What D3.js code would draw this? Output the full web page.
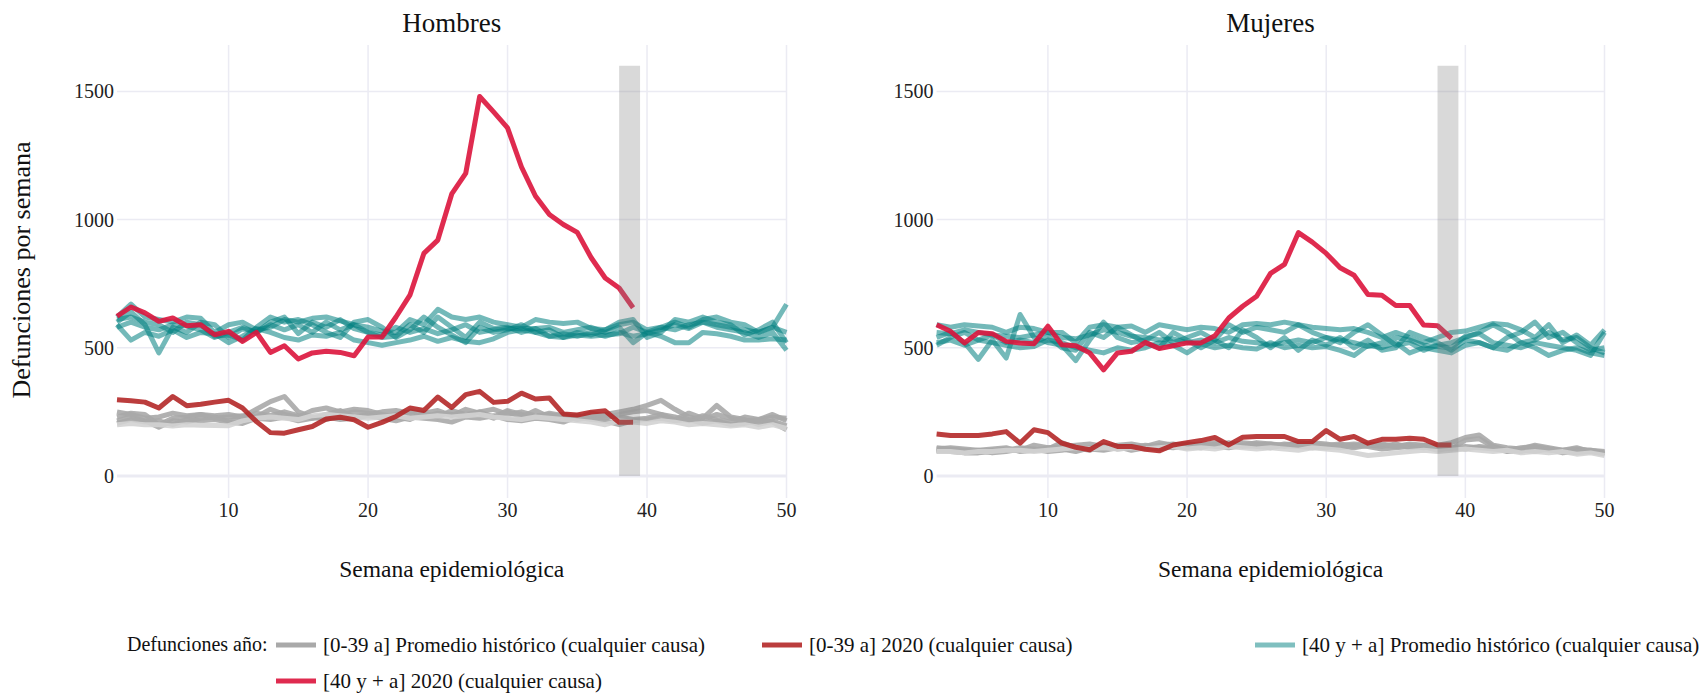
<!DOCTYPE html>
<html>
<head>
<meta charset="utf-8">
<script src="https://cdn.jsdelivr.net/npm/d3@7"></script>
<style>
  body { margin: 0; background: #fff; }
  svg { font-family: "Liberation Serif", "Times New Roman", serif; }
</style>
</head>
<body>
<svg id="chart" width="1708" height="694"></svg>
<script>
// weeks 2..50
const weeks = d3.range(2, 51)
const weeks2020 = d3.range(2, 40)

// Hombres, [0-39 a] historical years
const hombresHist039 = [
  [230,245,240,200,225,230,240,235,240,230,260,290,310,250,230,220,240,250,245,230,240,250,245,230,255,240,250,260,240,250,235,240,230,235,225,240,250,260,275,295,260,230,220,240,225,215,220,230,225],
  [215,230,215,190,215,210,225,230,215,220,245,235,250,235,225,240,255,230,240,250,255,245,230,245,240,235,250,230,255,240,230,245,235,220,230,225,240,250,255,240,220,245,225,275,230,220,200,215,195],
  [250,240,225,230,245,235,240,225,230,235,230,260,240,230,255,265,250,260,255,240,230,220,245,255,235,260,245,225,250,230,255,230,240,225,245,235,230,220,225,240,230,215,235,220,210,230,220,240,215],
  [205,220,210,215,200,220,215,220,210,205,225,220,230,215,225,230,220,225,235,225,215,230,225,220,210,230,225,235,220,215,225,220,210,230,220,215,200,215,220,225,215,220,205,215,200,205,215,210,180],
  [200,205,200,200,195,200,198,197,196,215,225,230,225,220,235,240,235,230,225,230,235,225,230,235,230,235,240,230,225,220,230,225,220,215,210,200,215,210,205,215,210,200,205,200,195,200,190,200,185]
]
// Hombres, [40 y + a] historical years
const hombresHist40 = [
  [600,640,590,480,580,560,600,590,540,575,560,600,620,555,600,580,610,575,560,540,545,590,560,620,580,540,600,575,580,560,575,580,560,570,580,560,580,520,560,580,570,590,600,580,570,560,540,560,490],
  [620,670,620,610,600,620,615,560,590,600,570,580,610,600,615,620,605,590,580,565,560,610,590,650,620,610,620,600,590,580,610,600,595,600,575,570,590,600,570,580,600,580,610,620,600,590,560,580,670],
  [590,530,560,545,570,540,560,555,520,545,575,560,540,530,550,545,560,530,520,510,520,530,545,525,540,525,520,535,560,570,560,545,540,550,545,550,555,580,560,545,520,520,560,555,545,530,530,535,530],
  [580,600,580,570,590,585,570,540,560,580,560,590,570,590,560,600,570,590,560,550,580,560,575,555,570,590,560,570,575,575,575,545,555,545,560,545,560,545,555,570,590,575,600,590,580,570,560,580,560],
  [610,620,600,590,560,600,590,545,550,530,580,620,600,610,590,560,540,600,610,580,540,570,620,580,550,520,580,560,570,590,560,570,540,560,550,570,600,610,540,560,610,600,620,600,590,550,570,600,520]
]
// Hombres 2020
const hombres2020_039 = [297,293,288,265,310,274,280,288,295,265,212,169,167,180,193,222,229,219,190,209,232,265,255,308,267,317,330,287,291,323,300,304,242,238,249,254,209,209]
const hombres2020_40 = [623,659,636,603,616,586,590,551,564,525,560,482,508,456,480,486,482,469,542,542,620,705,868,920,1100,1180,1480,1420,1358,1205,1092,1020,981,950,851,772,733,656]

// Mujeres, [0-39 a] historical years
const mujeresHist039 = [
  [110,105,100,95,100,105,100,120,110,115,120,125,115,120,125,115,130,120,125,120,130,125,120,130,125,120,130,125,120,125,115,125,120,115,120,110,120,130,150,160,120,110,105,120,110,100,105,100,95],
  [100,95,90,90,95,100,110,105,95,100,110,105,100,110,115,110,105,115,110,120,115,110,120,115,110,120,115,110,115,110,120,115,105,110,115,120,110,105,140,145,115,100,95,110,100,95,90,95,85],
  [95,100,95,100,90,95,105,100,105,130,110,100,120,105,110,120,115,110,120,125,120,130,115,120,125,115,120,115,110,120,125,120,115,125,110,115,100,110,115,110,105,100,110,115,105,100,110,95,90],
  [105,110,105,100,105,110,95,100,110,105,95,110,105,115,100,110,120,125,115,110,125,120,130,125,115,125,120,130,125,115,110,120,125,115,125,120,115,110,105,115,110,95,100,95,105,90,95,100,90],
  [95,95,90,95,95,100,100,95,100,105,110,105,110,105,110,105,110,115,105,110,105,115,110,105,110,105,100,110,105,100,90,80,85,90,95,100,95,100,105,100,95,100,90,95,90,95,85,90,80]
]
// Mujeres, [40 y + a] historical years
const mujeresHist40 = [
  [540,560,520,455,530,460,630,540,520,510,450,530,600,540,520,530,560,520,540,560,530,590,560,580,570,560,590,560,540,520,560,590,550,510,520,490,510,520,540,560,590,560,520,530,560,530,540,500,480],
  [590,580,590,585,580,560,580,575,560,560,520,580,590,580,585,560,590,580,570,580,575,560,590,595,590,600,590,580,575,570,575,560,540,560,540,520,540,560,565,580,595,590,570,540,590,520,550,510,570],
  [560,555,570,560,550,545,540,550,560,540,535,550,570,560,545,540,530,535,520,530,520,540,525,520,510,520,530,520,540,530,520,505,520,540,530,510,505,500,545,555,520,510,500,520,510,500,490,470,560],
  [520,530,510,530,520,510,500,505,530,520,500,490,480,500,490,500,520,510,480,515,500,510,500,495,520,500,510,500,505,490,470,510,500,520,480,500,490,480,510,520,500,490,520,500,470,490,500,480,470],
  [510,540,560,530,550,520,530,520,545,500,490,560,540,580,550,520,500,560,530,500,530,500,570,540,500,540,490,530,510,540,500,530,490,500,560,540,520,490,530,520,500,540,560,600,540,560,520,490,500]
]
// Mujeres 2020
const mujeres2020_039 = [164,158,158,158,164,173,128,180,169,128,112,102,134,115,115,104,98,121,130,138,150,121,151,154,154,154,134,134,177,143,154,128,143,143,147,143,121,121]
const mujeres2020_40 = [590,564,519,560,555,525,519,516,584,512,508,480,414,480,486,521,497,508,519,519,547,616,662,701,790,825,949,912,868,812,783,708,705,665,665,589,586,537]

const panelTitles = ["Hombres", "Mujeres"]
const xTicks = [10, 20, 30, 40, 50]
const yTicks = [0, 500, 1000, 1500]
const band = [38, 39.5]
const bandTop = 1600

const legendTitle = "Defunciones año:"
const legendLabels = [
  "[0-39 a] Promedio histórico (cualquier causa)",
  "[0-39 a] 2020 (cualquier causa)",
  "[40 y + a] Promedio histórico (cualquier causa)",
  "[40 y + a] 2020 (cualquier causa)"
]

const colHist039 = ["#a9a9a9", "#a9a9a9", "#a9a9a9", "#a9a9a9", "#d3d3d3"]
const colTeal = "#008080"
const colBrown = "#b22222"
const colRed = "#dc143c"

const svg = d3.select("#chart")

const panels = [
  {title: panelTitles[0], x0: 117, x1: 786.5, hist039: hombresHist039, hist40: hombresHist40, y039: hombres2020_039, y40: hombres2020_40},
  {title: panelTitles[1], x0: 936.6, x1: 1604.5, hist039: mujeresHist039, hist40: mujeresHist40, y039: mujeres2020_039, y40: mujeres2020_40}
]

const y = d3.scaleLinear().domain([-86, 1681]).range([498, 45])
const lw = 5

panels.forEach((p, pi) => {
  const x = d3.scaleLinear().domain([2, 50]).range([p.x0, p.x1])
  const g = svg.append("g")

  // grid
  g.append("g").selectAll("line").data(xTicks).join("line")
    .attr("x1", d => x(d)).attr("x2", d => x(d))
    .attr("y1", y.range()[1]).attr("y2", y.range()[0])
    .attr("stroke", "#ebebf3").attr("stroke-width", 1.5)
  g.append("g").selectAll("line").data(yTicks).join("line")
    .attr("x1", p.x0).attr("x2", p.x1)
    .attr("y1", d => y(d)).attr("y2", d => y(d))
    .attr("stroke", "#ebebf3").attr("stroke-width", d => d === 0 ? 3 : 1.5)

  // tick labels
  g.append("g").selectAll("text").data(yTicks).join("text")
    .attr("x", p.x0 - 3).attr("y", d => y(d) + 7)
    .attr("text-anchor", "end").attr("font-size", 20).attr("fill", "#222")
    .text(d => d)
  g.append("g").selectAll("text").data(xTicks).join("text")
    .attr("x", d => x(d)).attr("y", 517)
    .attr("text-anchor", "middle").attr("font-size", 20).attr("fill", "#222")
    .text(d => d)

  const line = d3.line().x((d, i) => x(weeks[i])).y(d => y(d))
  const line20 = d3.line().x((d, i) => x(weeks2020[i])).y(d => y(d))

  // historical 0-39
  g.append("g").selectAll("path").data(p.hist039).join("path")
    .attr("d", line).attr("fill", "none")
    .attr("stroke", (d, i) => colHist039[i]).attr("stroke-opacity", 0.9)
    .attr("stroke-width", lw).attr("stroke-linejoin", "round")
  // 2020 0-39
  g.append("path").attr("d", line20(p.y039)).attr("fill", "none")
    .attr("stroke", colBrown).attr("stroke-opacity", 0.88)
    .attr("stroke-width", lw).attr("stroke-linejoin", "round")
  // historical 40+
  g.append("g").selectAll("path").data(p.hist40).join("path")
    .attr("d", line).attr("fill", "none")
    .attr("stroke", colTeal).attr("stroke-opacity", 0.55)
    .attr("stroke-width", lw).attr("stroke-linejoin", "round")
  // 2020 40+
  g.append("path").attr("d", line20(p.y40)).attr("fill", "none")
    .attr("stroke", colRed).attr("stroke-opacity", 0.9)
    .attr("stroke-width", lw).attr("stroke-linejoin", "round")

  // band for incomplete weeks
  g.append("rect")
    .attr("x", x(band[0])).attr("width", x(band[1]) - x(band[0]))
    .attr("y", y(bandTop)).attr("height", y(0) - y(bandTop))
    .attr("fill", "#808080").attr("fill-opacity", 0.3)

  // titles
  g.append("text").attr("x", (p.x0 + p.x1) / 2).attr("y", 32)
    .attr("text-anchor", "middle").attr("font-size", 27).attr("fill", "#111")
    .text(p.title)
  g.append("text").attr("x", (p.x0 + p.x1) / 2).attr("y", 577)
    .attr("text-anchor", "middle").attr("font-size", 23.5).attr("fill", "#111")
    .text("Semana epidemiológica")
})

svg.append("text")
  .attr("transform", "translate(30,270) rotate(-90)")
  .attr("text-anchor", "middle").attr("font-size", 26).attr("fill", "#111")
  .text("Defunciones por semana")

// legend
const legend = svg.append("g")
legend.append("text").attr("x", 127).attr("y", 651)
  .attr("font-size", 20).attr("fill", "#111").text(legendTitle)
const legendItems = [
  {label: legendLabels[0], color: "#a9a9a9", op: 1, x: 276, y: 645},
  {label: legendLabels[1], color: colBrown, op: 0.88, x: 762, y: 645},
  {label: legendLabels[2], color: colTeal, op: 0.5, x: 1255, y: 645},
  {label: legendLabels[3], color: colRed, op: 0.9, x: 276, y: 681}
]
const li = legend.selectAll("g.item").data(legendItems).join("g").attr("class", "item")
  .attr("transform", d => `translate(${d.x},${d.y})`)
li.append("line").attr("x1", 0).attr("x2", 40).attr("y1", 0).attr("y2", 0)
  .attr("stroke", d => d.color).attr("stroke-opacity", d => d.op).attr("stroke-width", 5)
li.append("text").attr("x", 47).attr("y", 7)
  .attr("font-size", 21).attr("fill", "#111").text(d => d.label)
</script>
</body>
</html>
